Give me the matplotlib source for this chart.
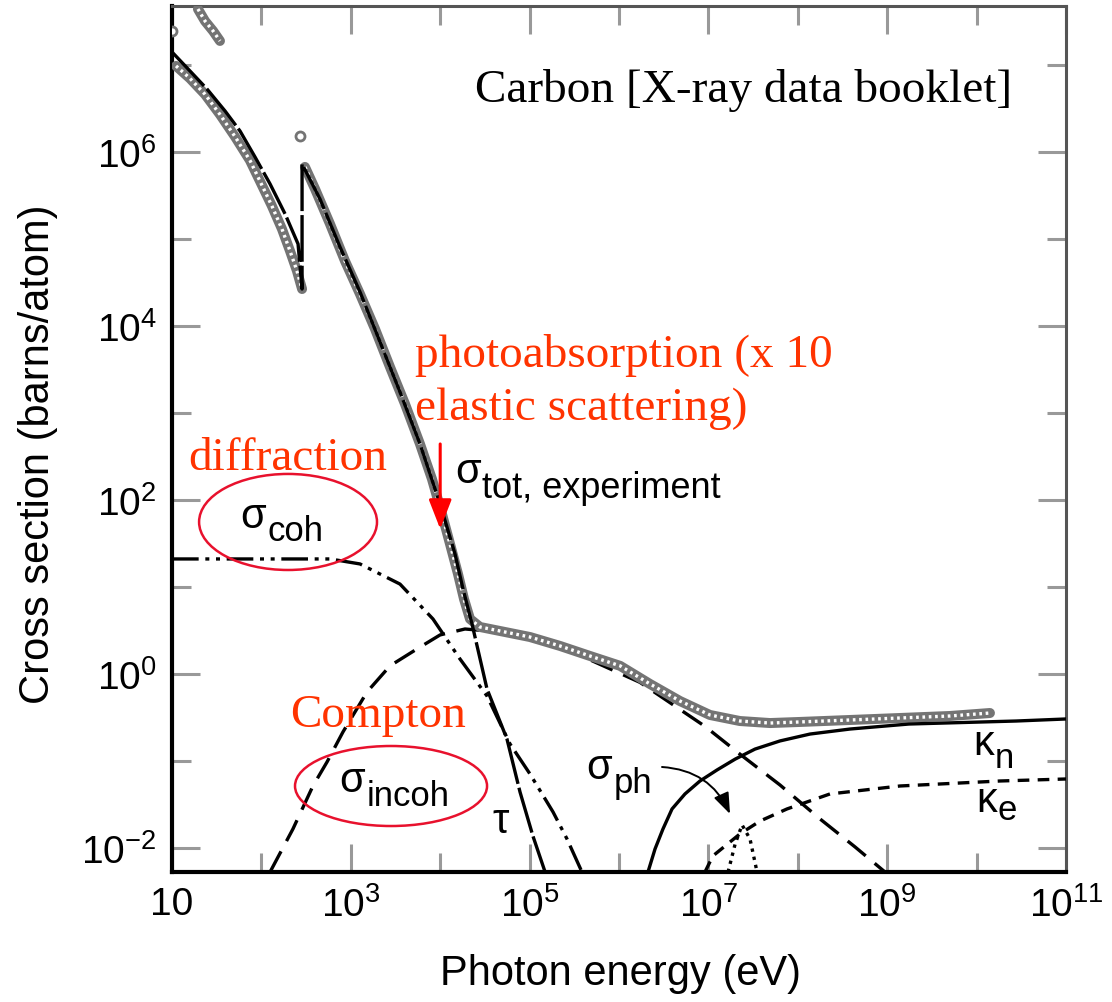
import matplotlib
matplotlib.use("Agg")
import matplotlib.pyplot as plt
from matplotlib.patches import Ellipse
import numpy as np

# ---------------- data ----------------
# total cross section, experiment (grey open circles)
tot_E_pre = [11.1, 15.9, 23.4, 34.4, 50.7, 74.5, 102, 131, 170, 209, 250, 285]
tot_s_pre = [9.75e6, 7.0e6, 4.6e6, 2.7e6, 1.5e6, 8.0e5, 4.1e5, 2.4e5,
             1.3e5, 7.28e4, 4.29e4, 2.66e4]
tot_E_post = [307, 398, 585, 861, 1267, 1866, 2743, 4038, 5943, 8091, 10470,
              12880, 15820, 18460, 21540, 27860, 46660, 1.01e5, 2.19e5, 4.74e5,
              1.03e6, 2.22e6, 4.81e6, 1.04e7, 2.25e7, 4.89e7, 1.06e8, 3.84e8,
              1.39e9, 5.04e9, 1.41e10]
tot_s_post = [6.73e5, 3.76e5, 1.49e5, 5.59e4, 2.33e4, 9.24e3, 3.38e3, 1.27e3,
              440, 174, 69.0, 31.2, 14.1, 7.28, 4.29, 3.47, 3.12, 2.66, 2.10,
              1.61, 1.24, 0.768, 0.489, 0.338, 0.288, 0.273, 0.281, 0.296,
              0.312, 0.329, 0.356]
tot_E_top = [19.5, 23.4, 28.8, 34.4]
tot_s_top = [4.40e7, 3.2e7, 2.46e7, 1.89e7]
stray_E = [10, 271]
stray_s = [2.46e7, 1.53e6]

# photoabsorption tau
tau_E = [10, 15.9, 24.6, 39.2, 57.7, 84.8, 125, 184, 257, 285, 285, 452, 757,
         1267, 2123, 3550, 5943, 9960, 14650, 17990, 22690, 33380, 55820,
         78130, 1.09e5, 1.49e5]
tau_s = [1.41e7, 8.53e6, 5.30e6, 2.96e6, 1.74e6, 8.77e5, 4.29e5, 1.94e5,
         8.77e4, 2.66e4, 7.28e5, 2.88e5, 8.09e4, 2.46e4, 6.55e3, 1.74e3, 440,
         89.9, 23.9, 9.48, 3.76, 0.673, 0.179, 0.0440, 0.0137, 0.0053]

# coherent (Rayleigh) scattering
coh_E = [10, 74.5, 585, 1267, 3550, 8300, 16630, 33380, 60360, 1.01e5,
         1.83e5, 2.62e5, 3.85e5]
coh_s = [21.0, 21.0, 21.0, 18.4, 10.8, 4.29, 1.49, 0.559, 0.157, 0.0709,
         0.0259, 0.0127, 0.0053]

# incoherent (Compton) scattering
inc_E = [125, 225, 377, 542, 818, 1518, 2743, 5500, 9960, 18930, 46660,
         2.19e5, 1.72e6, 9.16e6, 2.25e7, 6.32e7, 1.77e8, 4.36e8, 9.44e8]
inc_s = [0.0053, 0.0165, 0.0516, 0.0974, 0.216, 0.621, 1.24, 1.94, 2.81,
         3.29, 3.04, 2.08, 0.80, 0.25, 0.120, 0.0530, 0.0216, 0.0103, 0.0053]

# pair production, nuclear field
kn_E = [2.11e6, 2.53e6, 3.10e6, 3.92e6, 5.47e6, 8.05e6, 1.25e7, 1.99e7,
        3.32e7, 6.32e7, 1.37e8, 3.84e8, 1.75e9, 2.76e10, 1e11]
kn_s = [0.0053, 0.00975, 0.0165, 0.0281, 0.0418, 0.0589, 0.0789, 0.105,
        0.137, 0.170, 0.204, 0.233, 0.266, 0.288, 0.304]

# pair production, electron field
ke_E = [9.16e6, 1.12e7, 1.53e7, 2.25e7, 3.78e7, 7.57e7, 2.29e8, 1.39e9,
        1.83e10, 1e11]
ke_s = [0.0053, 0.00809, 0.0105, 0.0145, 0.0204, 0.0281, 0.0418, 0.0516,
        0.0589, 0.0621]

# photonuclear
ph_E = [1.66e7, 1.99e7, 2.38e7, 2.92e7, 3.50e7]
ph_s = [0.0053, 0.0111, 0.0184, 0.0127, 0.0053]

x_major = [1e1, 1e3, 1e5, 1e7, 1e9, 1e11]
x_major_labels = ["10", "$10^{3}$", "$10^{5}$", "$10^{7}$", "$10^{9}$", "$10^{11}$"]
x_minor = [1e2, 1e4, 1e6, 1e8, 1e10]
y_major = [1e-2, 1e0, 1e2, 1e4, 1e6]
y_major_labels = ["$10^{-2}$", "$10^{0}$", "$10^{2}$", "$10^{4}$", "$10^{6}$"]
y_minor = [1e-1, 1e1, 1e3, 1e5, 1e7]

# ---------------- style ----------------
SANS = ["Liberation Sans", "DejaVu Sans"]
SERIF = ["Liberation Serif", "DejaVu Serif"]
plt.rcParams["font.family"] = SANS
plt.rcParams["mathtext.fontset"] = "custom"
plt.rcParams["mathtext.rm"] = "Liberation Sans"
plt.rcParams["mathtext.it"] = "Liberation Sans:italic"
plt.rcParams["mathtext.bf"] = "Liberation Sans:bold"
RED_TXT = "#ff3300"
RED_LINE = "#e8112d"
GREY = "#747474"

fig = plt.figure(figsize=(11.12, 10.03), dpi=100)
ax = fig.add_axes([172 / 1112, 1 - 873 / 1003, 894 / 1112, 866 / 1003])
ax.set_xscale("log")
ax.set_yscale("log")
ax.set_xlim(1e1, 1e11)
ax.set_ylim(10 ** -2.276, 10 ** 7.678)

LW = 2.4
# curves below the grey data
ax.plot(inc_E, inc_s, color="black", lw=LW, ls=(0, (7, 3.5)), zorder=2)

# grey experimental data: chain of open circles
for E, s in ((tot_E_pre, tot_s_pre), (tot_E_post, tot_s_post),
             (tot_E_top, tot_s_top)):
    ax.plot(E, s, color=GREY, lw=7.2, solid_capstyle="round", zorder=3)
    ax.plot(E, s, color="white", lw=2.4, ls=(0, (0.8, 1.1)), zorder=3.1)
ax.plot(stray_E, stray_s, ls="none", marker="o", ms=6.5, mfc="white",
        mec=GREY, mew=2.0, zorder=3)

# theory curves
ax.plot(tau_E, tau_s, color="black", lw=LW, ls=(0, (14, 1.2)), zorder=4)
ax.plot(coh_E, coh_s, color="black", lw=LW,
        ls=(0, (8, 2, 1.2, 2, 1.2, 2)), zorder=4)
ax.plot(kn_E, kn_s, color="black", lw=LW, ls="-", zorder=4)
ax.plot(ke_E, ke_s, color="black", lw=LW, ls=(0, (3.5, 2.5)), zorder=4)
ax.plot(ph_E, ph_s, color="black", lw=LW, ls=(0, (1, 1.5)), zorder=4)

# ---------------- axes styling ----------------
ax.set_xticks(x_major)
ax.set_xticklabels(x_major_labels)
ax.set_xticks(x_minor, minor=True)
ax.set_yticks(y_major)
ax.set_yticklabels(y_major_labels)
ax.set_yticks(y_minor, minor=True)
ax.xaxis.set_minor_formatter(matplotlib.ticker.NullFormatter())
ax.yaxis.set_minor_formatter(matplotlib.ticker.NullFormatter())
ax.tick_params(which="both", direction="in", top=True, right=True,
               color="#999999", width=2.2, labelsize=28)
ax.tick_params(which="major", length=20)
ax.tick_params(which="minor", length=14)
ax.tick_params(axis="x", which="major", pad=10)
ax.tick_params(axis="y", which="major", pad=11)
for side in ("left", "bottom"):
    ax.spines[side].set_color("black")
    ax.spines[side].set_linewidth(3.0)
for side in ("top", "right"):
    ax.spines[side].set_color("#555555")
    ax.spines[side].set_linewidth(2.2)

ax.set_xlabel("Photon energy (eV)", fontsize=30)
ax.set_ylabel("Cross section (barns/atom)", fontsize=30)
ax.xaxis.set_label_coords(0.502, -0.093)
ax.yaxis.set_label_coords(-0.127, 0.483)


# ---------------- annotations ----------------
def sub_label(sym, sub, x, y, dy, dx=1, size=30, subsize=25):
    ax.annotate(sym, (x, y), xytext=(0, 0), textcoords="offset points",
                ha="right", va="baseline", fontsize=size, family=SANS, zorder=6)
    ax.annotate(sub, (x, y), xytext=(dx, -dy), textcoords="offset points",
                ha="left", va="baseline", fontsize=subsize, family=SANS, zorder=6)


sub_label("σ", "coh", 112, 49, 9.4)
sub_label("σ", "tot, experiment", 2.86e4, 161, 11, subsize=26)
sub_label("σ", "incoh", 1.44e3, 0.0452, 10)
sub_label("σ", "ph", 8.36e5, 0.0638, 10)
sub_label("κ", "n", 1.58e10, 0.120, 9.4, dx=0.5)
sub_label("κ", "e", 1.69e10, 0.0266, 6, dx=0.5)
ax.text(4.79e4, 0.0204, "τ", fontsize=30, ha="center", va="center", zorder=6)

ax.text(10 ** 4.389, 10 ** 6.586, "Carbon [X-ray data booklet]", family=SERIF,
        fontsize=34, color="black", ha="left", va="baseline")
ax.text(10 ** 3.718, 10 ** 3.540, "photoabsorption (x 10", family=SERIF,
        fontsize=34, color=RED_TXT, ha="left", va="baseline")
ax.text(10 ** 3.718, 10 ** 2.931, "elastic scattering)", family=SERIF,
        fontsize=34, color=RED_TXT, ha="left", va="baseline")
ax.text(10 ** 1.179, 10 ** 2.356, "diffraction", family=SERIF,
        fontsize=34, color=RED_TXT, ha="left", va="baseline")
ax.text(10 ** 2.320, 10 ** -0.598, "Compton", family=SERIF,
        fontsize=34, color=RED_TXT, ha="left", va="baseline")

# red arrow
ax.annotate("", xy=(1e4, 10 ** 1.667), xytext=(1e4, 10 ** 2.644),
            arrowprops=dict(arrowstyle="-|>,head_length=0.9,head_width=0.35",
                            color="red", lw=2.2, mutation_scale=20,
                            shrinkA=0, shrinkB=0), zorder=7)
# sigma_ph arrow
ax.annotate("", xy=(10 ** 7.242, 10 ** -1.609), xytext=(10 ** 6.481, 10 ** -1.069),
            arrowprops=dict(arrowstyle="-|>,head_length=0.8,head_width=0.3",
                            color="black", lw=1.4, mutation_scale=16,
                            connectionstyle="arc3,rad=-0.3",
                            shrinkA=0, shrinkB=0), zorder=7)

# red ellipses
ax.add_patch(Ellipse((0.1298, 0.4042), 0.199, 0.1109, transform=ax.transAxes,
                     fill=False, ec=RED_LINE, lw=1.8, zorder=8))
ax.add_patch(Ellipse((0.245, 0.0993), 0.2148, 0.0924, transform=ax.transAxes,
                     fill=False, ec=RED_LINE, lw=1.8, zorder=8))

fig.savefig("out.png", dpi=100)
